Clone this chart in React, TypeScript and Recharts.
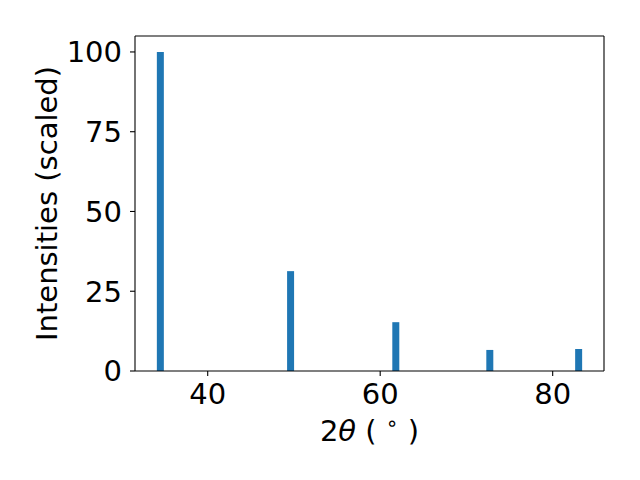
import React from 'react';
import { Bar, ComposedChart, Label, ReferenceLine, XAxis, YAxis } from 'recharts';

// peak positions (2theta, degrees) and scaled intensities
const angles = [34.5, 49.6, 61.8, 72.7, 83.0];
const intensities = [100, 31.3, 15.3, 6.6, 6.9];
const xTicks = [40, 60, 80];
const yTicks = [0, 25, 50, 75, 100];

const data = angles.map((a, i) => ({ angle: a, intensity: intensities[i] }));

const X_DOMAIN = [31.57, 85.95];
const Y_DOMAIN = [0, 105];
const FONT = 29;
const line = { stroke: '#000', strokeWidth: 1.1 };

const XLabel = (props: any) => {
  const { viewBox } = props;
  const cx = viewBox.x + viewBox.width / 2;
  return (
    <text x={cx} y={viewBox.y + 70} textAnchor='middle' fontSize={FONT} fill='#000'>
      2<tspan fontStyle='italic'>θ</tspan> ( <tspan fontSize={FONT * 0.7} dy={-11}>∘</tspan><tspan dy={11}> )</tspan>
    </text>
  );
};

const YLabel = (props: any) => {
  const { viewBox } = props;
  const cx = viewBox.x + 12;
  const cy = viewBox.y + viewBox.height / 2;
  return (
    <text
      x={cx}
      y={cy}
      textAnchor='middle'
      dominantBaseline='central'
      fontSize={FONT}
      fill='#000'
      transform={`rotate(-90, ${cx}, ${cy})`}
    >
      Intensities (scaled)
    </text>
  );
};

export default function App() {
  return (
    <div style={{ position: 'absolute', left: 0, top: 0, width: 640, height: 480, background: '#fff', fontFamily: 'DejaVu Sans' }}>
      <ComposedChart width={640} height={480} data={data} margin={{ top: 36, right: 36, bottom: 29, left: 35 }}>
        <XAxis
          dataKey='angle'
          type='number'
          domain={X_DOMAIN}
          allowDataOverflow
          ticks={xTicks}
          tickSize={5}
          tickMargin={7}
          height={80}
          axisLine={line}
          tickLine={line}
          tick={{ fill: '#000', fontSize: FONT }}
        >
          <Label content={<XLabel />} />
        </XAxis>
        <YAxis
          type='number'
          domain={Y_DOMAIN}
          allowDataOverflow
          ticks={yTicks}
          tickSize={5}
          tickMargin={8}
          width={100}
          axisLine={line}
          tickLine={line}
          tick={{ fill: '#000', fontSize: FONT }}
        >
          <Label content={<YLabel />} />
        </YAxis>
        <ReferenceLine y={Y_DOMAIN[1]} stroke='#000' strokeWidth={1.1} />
        <ReferenceLine x={X_DOMAIN[1]} stroke='#000' strokeWidth={1.1} />
        <Bar dataKey='intensity' fill='#1f77b4' barSize={7} isAnimationActive={false} />
      </ComposedChart>
    </div>
  );
}
